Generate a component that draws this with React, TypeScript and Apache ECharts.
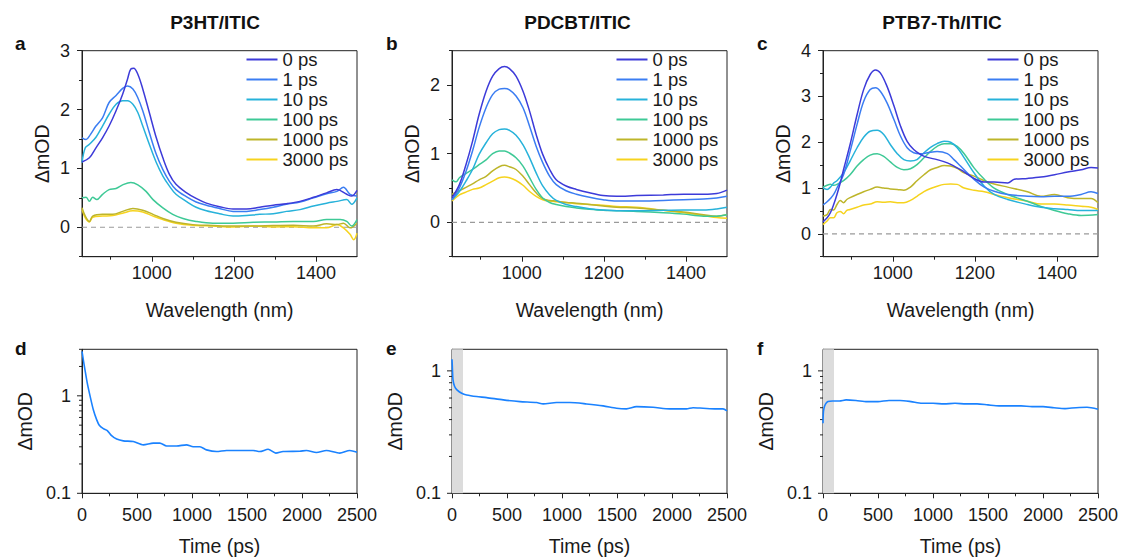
import React, { useEffect, useRef } from 'react';
import * as echarts from 'echarts';

const FONT = "'Liberation Sans', Arial, Helvetica, sans-serif";

// ---------- data ----------
const DELAYS = ['0 ps', '1 ps', '10 ps', '100 ps', '1000 ps', '3000 ps'];
const COLORS = ['#3d3bd9', '#3b7df2', '#27b2da', '#3ec996', '#bdb52a', '#f6d31e'];
const PANEL_TITLES = ['P3HT/ITIC', 'PDCBT/ITIC', 'PTB7-Th/ITIC'];
const PANEL_LETTERS = ['a', 'b', 'c', 'd', 'e', 'f'];

const WL_MIN = 830;
const WL_MAX = 1500;
const WL_MAJOR = [1000, 1200, 1400];
const WL_MINOR = [900, 1100, 1300];
const Y_MIN = -0.5;
const Y_MAX = [3, 2.5, 4];
const Y_MAJOR = [[0, 1, 2, 3], [0, 1, 2], [0, 1, 2, 3, 4]];
const Y_MINOR = [[-0.5, 0.5, 1.5, 2.5], [-0.5, 0.5, 1.5, 2.5], [-0.5, 0.5, 1.5, 2.5, 3.5]];

const T_MAX = 2500;
const T_INTERVAL = 500;
const LOG_MIN = 0.1;
const LOG_MAX = [3, 1.5, 1.5];
const LOG_MAJOR = [0.1, 1];
const LOG_MINOR = [0.2, 0.3, 0.4, 0.5, 0.6, 0.7, 0.8, 0.9, 2, 3];

// P3HT/ITIC spectra [nm, mOD]
const A_0 = [[830,1.11],[848,1.18],[864,1.35],[880,1.52],[896,1.72],[913,1.98],[929,2.26],[941,2.52],[949,2.69],[956,2.70],[966,2.60],[978,2.35],[994,1.95],[1011,1.52],[1027,1.18],[1043,0.90],[1059,0.73],[1084,0.59],[1108,0.49],[1133,0.41],[1165,0.35],[1198,0.31],[1231,0.31],[1263,0.34],[1296,0.375],[1328,0.40],[1361,0.44],[1394,0.51],[1426,0.585],[1451,0.64],[1475,0.56],[1487,0.53],[1500,0.625]];
const A_1 = [[830,1.52],[840,1.49],[850,1.57],[864,1.72],[880,1.86],[896,2.12],[913,2.24],[929,2.36],[941,2.40],[954,2.35],[966,2.20],[978,1.98],[994,1.61],[1011,1.24],[1027,0.98],[1043,0.78],[1059,0.64],[1084,0.52],[1108,0.43],[1133,0.375],[1165,0.32],[1198,0.27],[1231,0.27],[1263,0.30],[1296,0.34],[1328,0.39],[1361,0.43],[1394,0.50],[1426,0.57],[1451,0.61],[1467,0.68],[1483,0.56],[1500,0.53]];
const A_10 = [[830,1.10],[838,1.35],[848,1.41],[864,1.53],[880,1.72],[896,1.92],[913,2.09],[929,2.15],[941,2.15],[954,2.09],[966,1.95],[978,1.72],[994,1.41],[1011,1.10],[1027,0.87],[1043,0.70],[1059,0.56],[1084,0.44],[1108,0.34],[1133,0.28],[1165,0.23],[1198,0.19],[1231,0.20],[1263,0.22],[1296,0.23],[1328,0.27],[1361,0.30],[1394,0.36],[1426,0.41],[1451,0.44],[1475,0.47],[1487,0.39],[1500,0.50]];
const A_100 = [[830,0.50],[840,0.51],[848,0.44],[856,0.51],[866,0.47],[880,0.56],[896,0.64],[913,0.66],[929,0.72],[949,0.76],[966,0.72],[986,0.61],[1003,0.47],[1027,0.33],[1051,0.22],[1076,0.15],[1108,0.10],[1149,0.07],[1198,0.07],[1247,0.085],[1296,0.09],[1345,0.10],[1394,0.10],[1426,0.13],[1459,0.13],[1475,0.10],[1487,0.02],[1500,0.13]];
const A_1000 = [[830,0.33],[838,0.19],[848,0.10],[856,0.19],[880,0.22],[905,0.22],[929,0.27],[954,0.32],[978,0.29],[1003,0.22],[1027,0.15],[1059,0.085],[1100,0.045],[1149,0.03],[1198,0.02],[1247,0.02],[1296,0.03],[1345,0.035],[1394,0.02],[1426,0.06],[1451,0.045],[1467,0.07],[1483,-0.01],[1500,0.07]];
const A_3000 = [[830,0.30],[838,0.16],[848,0.09],[856,0.17],[880,0.19],[905,0.20],[929,0.24],[954,0.28],[978,0.26],[1003,0.19],[1027,0.13],[1059,0.07],[1100,0.035],[1149,0.02],[1198,0.005],[1247,0.02],[1296,0.005],[1345,0.01],[1394,-0.01],[1426,-0.01],[1451,0.045],[1467,-0.01],[1483,-0.12],[1492,-0.21],[1500,-0.10]];

// PDCBT/ITIC spectra
const B_0 = [[830,0.36],[848,0.55],[864,0.84],[880,1.18],[896,1.57],[913,1.91],[929,2.13],[945,2.24],[958,2.27],[970,2.24],[986,2.13],[1003,1.91],[1019,1.62],[1035,1.28],[1051,0.99],[1068,0.77],[1084,0.62],[1108,0.53],[1133,0.48],[1165,0.43],[1198,0.39],[1231,0.38],[1280,0.39],[1345,0.40],[1394,0.41],[1443,0.41],[1475,0.42],[1500,0.47]];
const B_1 = [[830,0.33],[848,0.50],[864,0.74],[880,1.04],[896,1.38],[913,1.67],[929,1.86],[945,1.94],[958,1.95],[970,1.93],[986,1.84],[1003,1.67],[1019,1.40],[1035,1.11],[1051,0.87],[1068,0.67],[1084,0.55],[1108,0.46],[1133,0.41],[1165,0.365],[1198,0.33],[1231,0.31],[1280,0.31],[1345,0.32],[1394,0.33],[1443,0.34],[1475,0.355],[1500,0.38]];
const B_10 = [[830,0.33],[848,0.45],[864,0.60],[880,0.77],[896,0.99],[913,1.16],[929,1.29],[945,1.35],[958,1.36],[970,1.34],[986,1.27],[1003,1.13],[1019,0.94],[1035,0.72],[1051,0.53],[1068,0.40],[1084,0.32],[1108,0.26],[1133,0.23],[1165,0.20],[1198,0.18],[1231,0.17],[1280,0.17],[1345,0.175],[1394,0.18],[1443,0.18],[1475,0.195],[1500,0.22]];
const B_100 = [[830,0.62],[840,0.59],[848,0.65],[864,0.71],[880,0.77],[896,0.84],[913,0.91],[929,1.00],[945,1.04],[958,1.04],[970,1.01],[986,0.94],[1003,0.82],[1019,0.65],[1035,0.48],[1051,0.355],[1068,0.29],[1084,0.26],[1108,0.23],[1133,0.21],[1165,0.19],[1198,0.175],[1231,0.17],[1280,0.16],[1345,0.14],[1394,0.12],[1443,0.09],[1475,0.09],[1500,0.11]];
const B_1000 = [[830,0.41],[848,0.46],[864,0.51],[880,0.56],[896,0.62],[913,0.67],[929,0.75],[945,0.81],[958,0.83],[970,0.81],[986,0.77],[1003,0.67],[1019,0.55],[1035,0.43],[1051,0.345],[1068,0.32],[1084,0.31],[1108,0.29],[1133,0.28],[1165,0.26],[1198,0.24],[1231,0.22],[1280,0.21],[1345,0.175],[1394,0.15],[1443,0.11],[1475,0.09],[1500,0.11]];
const B_3000 = [[830,0.31],[848,0.40],[864,0.44],[880,0.48],[896,0.50],[913,0.55],[929,0.60],[945,0.65],[958,0.66],[970,0.65],[986,0.61],[1003,0.54],[1019,0.45],[1035,0.38],[1051,0.33],[1068,0.31],[1084,0.30],[1108,0.29],[1133,0.27],[1165,0.26],[1198,0.25],[1231,0.23],[1280,0.22],[1345,0.175],[1394,0.14],[1443,0.10],[1475,0.07],[1500,0.06]];

// PTB7-Th/ITIC spectra
const C_0 = [[830,0.26],[840,0.35],[848,0.46],[856,0.64],[864,0.86],[872,1.11],[880,1.40],[896,1.95],[913,2.60],[929,3.15],[945,3.48],[958,3.58],[970,3.51],[986,3.22],[1003,2.79],[1019,2.35],[1035,2.02],[1051,1.84],[1068,1.73],[1084,1.67],[1108,1.62],[1133,1.55],[1165,1.40],[1198,1.21],[1223,1.13],[1247,1.13],[1280,1.11],[1296,1.19],[1328,1.21],[1361,1.24],[1394,1.29],[1426,1.35],[1459,1.40],[1483,1.45],[1500,1.44]];
const C_1 = [[830,0.63],[840,0.70],[848,0.77],[856,0.86],[864,1.00],[880,1.29],[896,1.80],[913,2.39],[929,2.89],[945,3.15],[958,3.19],[970,3.11],[986,2.86],[1003,2.49],[1019,2.13],[1035,1.88],[1051,1.77],[1068,1.75],[1084,1.77],[1108,1.80],[1133,1.75],[1149,1.62],[1165,1.48],[1198,1.19],[1223,1.02],[1247,0.93],[1280,0.86],[1328,0.82],[1361,0.81],[1394,0.82],[1426,0.82],[1459,0.86],[1483,0.92],[1500,0.88]];
const C_10 = [[830,1.00],[840,0.97],[848,1.02],[856,1.11],[864,1.16],[880,1.33],[896,1.59],[913,1.88],[929,2.11],[945,2.24],[962,2.26],[978,2.17],[994,1.95],[1011,1.75],[1027,1.62],[1043,1.59],[1059,1.62],[1076,1.77],[1092,1.89],[1108,1.97],[1125,2.02],[1141,2.00],[1157,1.88],[1174,1.66],[1198,1.33],[1223,1.04],[1247,0.86],[1280,0.75],[1328,0.64],[1361,0.58],[1394,0.55],[1426,0.53],[1459,0.51],[1500,0.51]];
const C_100 = [[830,1.02],[840,1.06],[848,1.08],[856,1.06],[864,1.08],[880,1.16],[896,1.29],[913,1.48],[929,1.62],[945,1.72],[962,1.75],[978,1.69],[994,1.57],[1011,1.45],[1027,1.40],[1043,1.42],[1059,1.51],[1076,1.66],[1092,1.80],[1108,1.91],[1125,1.97],[1141,1.97],[1157,1.91],[1174,1.75],[1198,1.44],[1223,1.19],[1247,1.00],[1280,0.86],[1328,0.71],[1361,0.60],[1394,0.51],[1426,0.44],[1459,0.40],[1500,0.42]];
const C_1000 = [[830,0.39],[840,0.42],[848,0.53],[856,0.52],[864,0.64],[872,0.73],[880,0.68],[888,0.75],[896,0.79],[913,0.86],[929,0.92],[945,0.97],[962,1.02],[978,1.00],[994,0.98],[1011,0.97],[1027,0.95],[1043,1.02],[1059,1.16],[1076,1.29],[1092,1.40],[1108,1.45],[1125,1.49],[1141,1.48],[1157,1.43],[1174,1.33],[1198,1.26],[1223,1.16],[1247,1.09],[1280,1.02],[1328,0.92],[1361,0.82],[1394,0.86],[1426,0.79],[1459,0.77],[1483,0.77],[1500,0.68]];
const C_3000 = [[830,0.20],[840,0.28],[848,0.35],[856,0.35],[864,0.46],[872,0.49],[880,0.44],[888,0.51],[896,0.53],[913,0.58],[929,0.63],[945,0.65],[962,0.70],[978,0.69],[994,0.70],[1011,0.68],[1027,0.68],[1043,0.73],[1059,0.82],[1076,0.92],[1092,0.99],[1108,1.04],[1125,1.08],[1141,1.09],[1157,1.08],[1174,1.00],[1198,0.95],[1223,0.92],[1247,0.86],[1280,0.79],[1328,0.71],[1361,0.65],[1394,0.65],[1426,0.63],[1459,0.60],[1483,0.58],[1500,0.53]];

// kinetics [ps, mOD]
const D_KIN = [[0,2.85],[12,2.34],[27,1.85],[48,1.35],[73,1.0],[103,0.72],[133,0.57],[157,0.50],[194,0.46],[230,0.44],[269,0.39],[315,0.36],[375,0.345],[466,0.34],[557,0.314],[648,0.327],[708,0.327],[769,0.306],[860,0.306],[950,0.314],[1011,0.30],[1072,0.30],[1132,0.279],[1223,0.268],[1314,0.275],[1435,0.275],[1556,0.275],[1616,0.268],[1692,0.283],[1762,0.258],[1828,0.268],[1980,0.27],[2040,0.275],[2131,0.262],[2222,0.275],[2343,0.258],[2434,0.275],[2500,0.264]];
const E_KIN = [[0,1.245],[3,1.085],[9,0.844],[24,0.745],[45,0.70],[88,0.657],[133,0.636],[224,0.617],[315,0.605],[466,0.579],[618,0.561],[769,0.551],[829,0.537],[950,0.551],[1072,0.551],[1223,0.537],[1374,0.518],[1495,0.495],[1586,0.489],[1677,0.51],[1828,0.504],[1980,0.489],[2131,0.489],[2191,0.50],[2282,0.495],[2403,0.489],[2464,0.489],[2500,0.471]];
const F_KIN = [[0,0.373],[3,0.451],[9,0.495],[24,0.537],[45,0.561],[88,0.568],[150,0.568],[210,0.579],[300,0.573],[400,0.561],[500,0.561],[600,0.573],[700,0.573],[800,0.561],[900,0.544],[1000,0.544],[1100,0.537],[1200,0.544],[1300,0.537],[1400,0.537],[1500,0.527],[1600,0.518],[1700,0.518],[1800,0.518],[1900,0.51],[2000,0.51],[2100,0.50],[2200,0.492],[2300,0.50],[2400,0.504],[2500,0.486]];
const SHADE_RANGE = [0, 100];

const SPECTRA = [
  [A_0, A_1, A_10, A_100, A_1000, A_3000],
  [B_0, B_1, B_10, B_100, B_1000, B_3000],
  [C_0, C_1, C_10, C_100, C_1000, C_3000],
];
const KINETICS = [D_KIN, E_KIN, F_KIN];
const SHADED = [false, true, true];

// ---------- layout ----------
const COL_LEFT = [82, 452, 823];
const PLOT_W = 275;
const TOP_Y = 50.7, TOP_H = 206;
const BOT_Y = 349.3, BOT_H = 144;
const TITLE_X = [215, 577.5, 942];
const LETTER_X = [15, 386, 757];
const INK = '#1a1a1a';
const AXIS = '#222';

const plain = (v: number) => String(v);

function buildOption() {
  const grid: any[] = [];
  const xAxis: any[] = [];
  const yAxis: any[] = [];
  const series: any[] = [];
  const legend: any[] = [];
  const graphic: any[] = [];
  const label = { fontFamily: FONT, fontSize: 18, color: INK };
  const nameStyle = { fontFamily: FONT, fontSize: 19.5, color: INK };

  // top spectra panels
  for (let p = 0; p < 3; p++) {
    grid.push({ left: COL_LEFT[p], top: TOP_Y, width: PLOT_W, height: TOP_H, show: true, borderColor: AXIS, borderWidth: 1, backgroundColor: 'transparent' });
    xAxis.push({
      type: 'value', gridIndex: p, min: WL_MIN, max: WL_MAX, position: 'bottom',
      name: 'Wavelength (nm)', nameLocation: 'middle', nameGap: 43, nameTextStyle: nameStyle,
      axisLine: { onZero: false, lineStyle: { color: AXIS, width: 1 } },
      axisTick: { length: 5, customValues: WL_MAJOR, lineStyle: { color: AXIS } },
      axisLabel: { ...label, margin: 7, customValues: WL_MAJOR, formatter: plain },
      splitLine: { show: false },
    });
    xAxis.push({
      type: 'value', gridIndex: p, min: WL_MIN, max: WL_MAX, position: 'bottom',
      axisLine: { show: false, onZero: false },
      axisTick: { length: 3, customValues: WL_MINOR, lineStyle: { color: AXIS } },
      axisLabel: { show: false }, splitLine: { show: false },
    });
    yAxis.push({
      type: 'value', gridIndex: p, min: Y_MIN, max: Y_MAX[p], position: 'left',
      name: 'ΔmOD', nameLocation: 'middle', nameGap: 30, nameRotate: 90, nameTextStyle: nameStyle,
      axisLine: { show: true, onZero: false, lineStyle: { color: AXIS, width: 1 } },
      axisTick: { show: true, length: 5, customValues: Y_MAJOR[p], lineStyle: { color: AXIS } },
      axisLabel: { ...label, margin: 12, customValues: Y_MAJOR[p], formatter: plain },
      splitLine: { show: false },
    });
    yAxis.push({
      type: 'value', gridIndex: p, min: Y_MIN, max: Y_MAX[p], position: 'left',
      axisLine: { show: false, onZero: false },
      axisTick: { show: true, length: 3, customValues: Y_MINOR[p], lineStyle: { color: AXIS } },
      axisLabel: { show: false }, splitLine: { show: false },
    });
    series.push({
      type: 'line', name: 'zero', xAxisIndex: 2 * p, yAxisIndex: 2 * p,
      data: [[WL_MIN, 0], [WL_MAX, 0]], symbol: 'none', silent: true, z: 1,
      lineStyle: { color: '#9a9a9a', width: 1.2, type: [5, 4] },
    });
    SPECTRA[p].forEach((d, i) => {
      series.push({
        type: 'line', name: DELAYS[i], xAxisIndex: 2 * p, yAxisIndex: 2 * p,
        data: d, symbol: 'none', smooth: 0.35, z: 3 + (5 - i),
        color: COLORS[i], lineStyle: { color: COLORS[i], width: 1.5 },
      });
    });
    legend.push({
      data: DELAYS.map((n) => ({ name: n, icon: 'rect' })),
      orient: 'vertical', left: COL_LEFT[p] + 164.5, top: 49.5,
      padding: 0, itemGap: 0, itemWidth: 31, itemHeight: 2, selectedMode: false,
      textStyle: { fontFamily: FONT, fontSize: 18.5, color: INK, lineHeight: 20 },
    });
    graphic.push({
      type: 'text', x: TITLE_X[p], y: 22.5,
      style: { text: PANEL_TITLES[p], font: `bold 19px ${FONT}`, fill: '#111', align: 'center', verticalAlign: 'middle' },
    });
    graphic.push({
      type: 'text', x: LETTER_X[p], y: 43.5,
      style: { text: PANEL_LETTERS[p], font: `bold 19px ${FONT}`, fill: '#111', align: 'left', verticalAlign: 'middle' },
    });
  }

  // bottom kinetics panels
  for (let p = 0; p < 3; p++) {
    const gi = 3 + p;
    grid.push({ left: COL_LEFT[p], top: BOT_Y, width: PLOT_W, height: BOT_H, show: true, borderColor: AXIS, borderWidth: 1, backgroundColor: 'transparent' });
    const xi = xAxis.length;
    xAxis.push({
      type: 'value', gridIndex: gi, min: 0, max: T_MAX, interval: T_INTERVAL, position: 'bottom',
      name: 'Time (ps)', nameLocation: 'middle', nameGap: 43, nameTextStyle: nameStyle,
      axisLine: { onZero: false, lineStyle: { color: AXIS, width: 1 } },
      axisTick: { length: 5, lineStyle: { color: AXIS } },
      minorTick: { show: true, splitNumber: 2, length: 3, lineStyle: { color: AXIS } },
      axisLabel: { ...label, margin: 12.5, formatter: plain },
      splitLine: { show: false },
    });
    const yi = yAxis.length;
    yAxis.push({
      type: 'log', logBase: 10, gridIndex: gi, min: LOG_MIN, max: LOG_MAX[p], position: 'left',
      name: 'ΔmOD', nameLocation: 'middle', nameGap: 47, nameRotate: 90, nameTextStyle: nameStyle,
      axisLine: { show: true, onZero: false, lineStyle: { color: AXIS, width: 1 } },
      axisTick: { show: false },
      axisLabel: {
        ...label, margin: 11,
        formatter: (v: number) => (Math.abs(v - 0.1) < 1e-6 ? '0.1' : Math.abs(v - 1) < 1e-6 ? '1' : ''),
      },
      splitLine: { show: false },
    });
    // log-axis tick marks placed through the axis scale
    const tickData = [
      ...LOG_MAJOR.map((v) => [0, v, 5]),
      ...LOG_MINOR.filter((v) => v <= LOG_MAX[p]).map((v) => [0, v, 3]),
    ];
    series.push({
      type: 'custom', name: 'ticks', xAxisIndex: xi, yAxisIndex: yi, silent: true, clip: false,
      data: tickData, encode: { x: 0, y: 1 },
      renderItem: (params: any, api: any) => {
        const pt = api.coord([api.value(0), api.value(1)]);
        const len = api.value(2);
        return {
          type: 'line',
          shape: { x1: pt[0] - len, y1: pt[1], x2: pt[0], y2: pt[1] },
          style: { stroke: AXIS, lineWidth: 1 },
        };
      },
    });
    const s: any = {
      type: 'line', name: 'kinetics', xAxisIndex: xi, yAxisIndex: yi,
      data: KINETICS[p], symbol: 'none', smooth: 0.25, z: 3,
      lineStyle: { color: '#1a82ff', width: 1.6 }, color: '#1a82ff',
    };
    if (SHADED[p]) {
      s.markArea = {
        silent: true, itemStyle: { color: '#dcdcdc' },
        data: [[{ xAxis: SHADE_RANGE[0] }, { xAxis: SHADE_RANGE[1] }]],
      };
    }
    series.push(s);
    graphic.push({
      type: 'text', x: LETTER_X[p], y: 348.5,
      style: { text: PANEL_LETTERS[3 + p], font: `bold 19px ${FONT}`, fill: '#111', align: 'left', verticalAlign: 'middle' },
    });
  }

  return {
    animation: false,
    backgroundColor: '#ffffff',
    textStyle: { fontFamily: FONT },
    grid, xAxis, yAxis, series, legend, graphic,
  };
}

export default function App() {
  const ref = useRef<HTMLDivElement>(null);
  useEffect(() => {
    if (!ref.current) return;
    const chart = echarts.init(ref.current, undefined, { renderer: 'svg' });
    chart.setOption(buildOption() as any);
    return () => chart.dispose();
  }, []);
  return (
    <div
      ref={ref}
      style={{ position: 'fixed', left: 0, top: 0, width: 1125, height: 560, background: '#fff' }}
    />
  );
}
